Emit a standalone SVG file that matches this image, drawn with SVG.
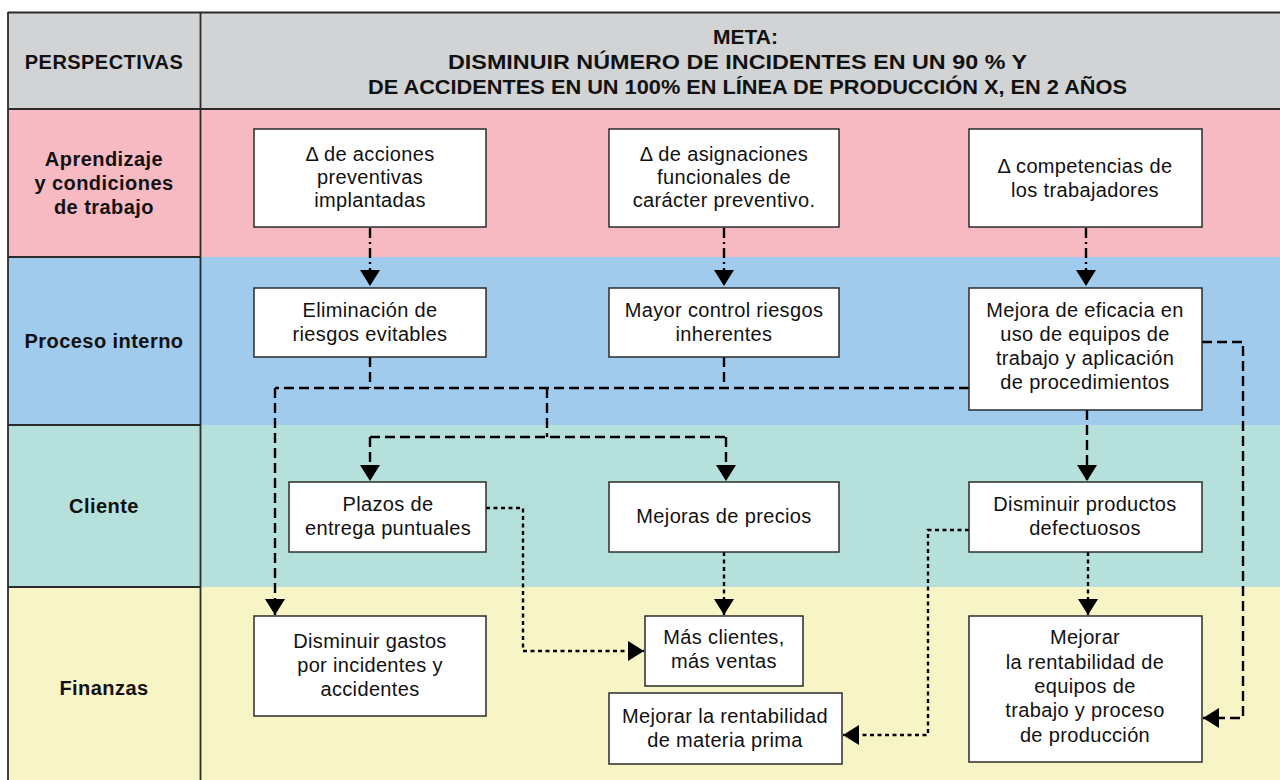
<svg xmlns="http://www.w3.org/2000/svg" width="1280" height="780" viewBox="0 0 1280 780">
<style>
.box{fill:#ffffff;stroke:#2b2b2b;stroke-width:1.5}
.t{font-family:"Liberation Sans",Arial,sans-serif;font-size:20px;letter-spacing:0.35px;fill:#111;text-anchor:middle}
.lb{font-family:"Liberation Sans",Arial,sans-serif;font-size:20px;font-weight:bold;letter-spacing:0.45px;fill:#111;text-anchor:middle}
.hd{font-family:"Liberation Sans Narrow","Liberation Sans",Arial,sans-serif;font-size:20px;font-weight:bold;fill:#111}
.grid{stroke:#2b2b2b;stroke-width:1.8;fill:none}
.c{fill:none;stroke:#000;stroke-width:2.4}
.dd{stroke-dasharray:10 4 2 4}
.da{stroke-dasharray:10 5}
.dt{stroke-dasharray:4 3.5}
</style>
<defs>
<marker id="ah" markerUnits="userSpaceOnUse" markerWidth="16" markerHeight="20" refX="16" refY="10" orient="auto">
<path d="M0,0 L16,10 L0,20 z" fill="#000"/>
</marker>
</defs>
<rect x="0" y="0" width="1280" height="780" fill="#ffffff"/>
<g id="bands">
<rect x="8" y="12" width="1272" height="97" fill="#d1d3d4"/>
<rect x="8" y="109" width="1272" height="148" fill="#f7bac3"/>
<rect x="8" y="257" width="1272" height="168" fill="#a0cbec"/>
<rect x="8" y="425" width="1272" height="162" fill="#b6e0dc"/>
<rect x="8" y="587" width="1272" height="193" fill="#f7f4c6"/>
<path class="grid" d="M8,12.5 H1280 M8,109 H1280 M8,12 V780 M200.5,12 V780 M8,257 H200.5 M8,425 H200.5 M8,587 H200.5"/>
</g>
<g id="header">
<text class="lb" x="104" y="69">PERSPECTIVAS</text>
<text class="hd" x="713" y="44" textLength="65" lengthAdjust="spacingAndGlyphs">META:</text>
<text class="hd" x="448" y="69" textLength="579" lengthAdjust="spacingAndGlyphs">DISMINUIR NÚMERO DE INCIDENTES EN UN 90 % Y</text>
<text class="hd" x="368" y="94" textLength="759" lengthAdjust="spacingAndGlyphs">DE ACCIDENTES EN UN 100% EN LÍNEA DE PRODUCCIÓN X, EN 2 AÑOS</text>
</g>
<g id="labels">
<text class="lb" x="104" y="166">Aprendizaje</text>
<text class="lb" x="104" y="190">y condiciones</text>
<text class="lb" x="104" y="214">de trabajo</text>
<text class="lb" x="104" y="348">Proceso interno</text>
<text class="lb" x="104" y="513">Cliente</text>
<text class="lb" x="104" y="695">Finanzas</text>
</g>
<g id="connectors">
<path class="c dd" d="M370,228 V286" marker-end="url(#ah)"/>
<path class="c dd" d="M724,228 V286" marker-end="url(#ah)"/>
<path class="c dd" d="M1086,228 V286" marker-end="url(#ah)"/>
<path class="c da" d="M370,357 V388"/>
<path class="c da" d="M724,357 V388"/>
<path class="c da" d="M969,388 H275"/>
<path class="c da" d="M275,388 V615" marker-end="url(#ah)"/>
<path class="c da" d="M547,388 V437"/>
<path class="c da" d="M370,437 H726"/>
<path class="c da" d="M370,437 V481" marker-end="url(#ah)"/>
<path class="c da" d="M726,437 V481" marker-end="url(#ah)"/>
<path class="c da" d="M1087,410 V481" marker-end="url(#ah)"/>
<path class="c da" d="M1202,342 H1243 V718 H1203" marker-end="url(#ah)"/>
<path class="c dt" d="M486,508 H523 V651 H644" marker-end="url(#ah)"/>
<path class="c dt" d="M724,552 V615" marker-end="url(#ah)"/>
<path class="c dt" d="M969,530 H928 V735 H843" marker-end="url(#ah)"/>
<path class="c dt" d="M1088,552 V615" marker-end="url(#ah)"/>
</g>
<g id="n1">
<rect class="box" x="254" y="129" width="232" height="98"/>
<text class="t" x="370" y="161">Δ de acciones</text>
<text class="t" x="370" y="184">preventivas</text>
<text class="t" x="370" y="207">implantadas</text>
</g>
<g id="n2">
<rect class="box" x="609" y="129" width="230" height="98"/>
<text class="t" x="724" y="161">Δ de asignaciones</text>
<text class="t" x="724" y="184">funcionales de</text>
<text class="t" x="724" y="207">carácter preventivo.</text>
</g>
<g id="n3">
<rect class="box" x="969" y="129" width="233" height="98"/>
<text class="t" x="1085" y="173">Δ competencias de</text>
<text class="t" x="1085" y="197">los trabajadores</text>
</g>
<g id="n4">
<rect class="box" x="254" y="288" width="232" height="69"/>
<text class="t" x="370" y="317">Eliminación de</text>
<text class="t" x="370" y="341">riesgos evitables</text>
</g>
<g id="n5">
<rect class="box" x="609" y="288" width="230" height="69"/>
<text class="t" x="724" y="317">Mayor control riesgos</text>
<text class="t" x="724" y="341">inherentes</text>
</g>
<g id="n6">
<rect class="box" x="969" y="288" width="233" height="122"/>
<text class="t" x="1085" y="317">Mejora de eficacia en</text>
<text class="t" x="1085" y="341">uso de equipos de</text>
<text class="t" x="1085" y="365">trabajo y aplicación</text>
<text class="t" x="1085" y="389">de procedimientos</text>
</g>
<g id="n7">
<rect class="box" x="289" y="482" width="197" height="70"/>
<text class="t" x="388" y="511">Plazos de</text>
<text class="t" x="388" y="535">entrega puntuales</text>
</g>
<g id="n8">
<rect class="box" x="609" y="482" width="230" height="70"/>
<text class="t" x="724" y="523">Mejoras de precios</text>
</g>
<g id="n9">
<rect class="box" x="969" y="482" width="233" height="70"/>
<text class="t" x="1085" y="511">Disminuir productos</text>
<text class="t" x="1085" y="535">defectuosos</text>
</g>
<g id="n10">
<rect class="box" x="254" y="616" width="232" height="100"/>
<text class="t" x="370" y="648">Disminuir gastos</text>
<text class="t" x="370" y="672">por incidentes y</text>
<text class="t" x="370" y="696">accidentes</text>
</g>
<g id="n11">
<rect class="box" x="645" y="616" width="158" height="70"/>
<text class="t" x="724" y="644">Más clientes,</text>
<text class="t" x="724" y="668">más ventas</text>
</g>
<g id="n12">
<rect class="box" x="609" y="693" width="233" height="71"/>
<text class="t" x="725" y="723">Mejorar la rentabilidad</text>
<text class="t" x="725" y="747">de materia prima</text>
</g>
<g id="n13">
<rect class="box" x="969" y="616" width="233" height="146"/>
<text class="t" x="1085" y="644">Mejorar</text>
<text class="t" x="1085" y="669">la rentabilidad de</text>
<text class="t" x="1085" y="693">equipos de</text>
<text class="t" x="1085" y="717">trabajo y proceso</text>
<text class="t" x="1085" y="742">de producción</text>
</g>
</svg>
